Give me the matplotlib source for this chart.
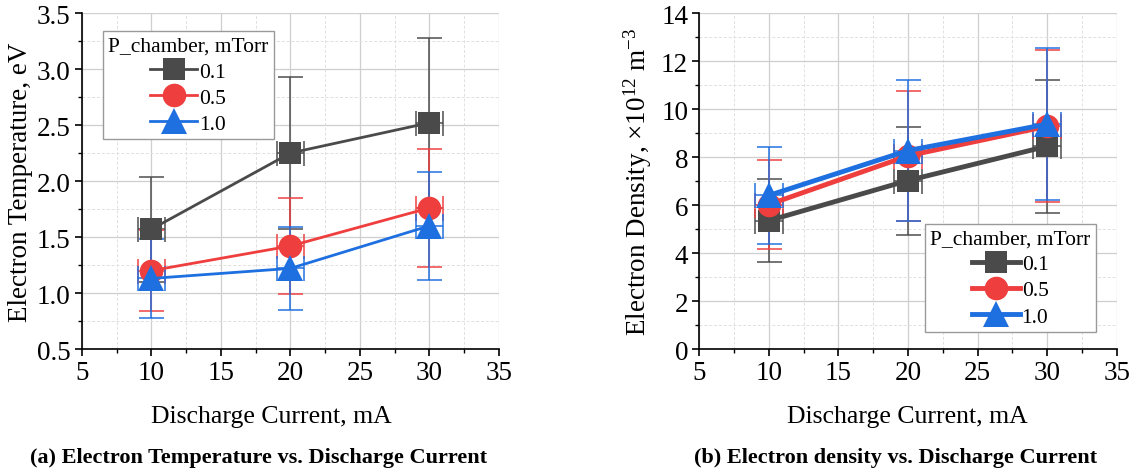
import matplotlib
matplotlib.use("Agg")
import matplotlib.pyplot as plt
from matplotlib.ticker import MultipleLocator, AutoMinorLocator

# -----------------------------
# Data
# -----------------------------
current_mA = [10, 20, 30]
pressures = ["0.1", "0.5", "1.0"]

te_01 = [1.57, 2.25, 2.52]
te_05 = [1.20, 1.42, 1.76]
te_10 = [1.13, 1.22, 1.60]
te_err_01 = [0.47, 0.68, 0.76]
te_err_05 = [0.36, 0.43, 0.53]
te_err_10 = [0.35, 0.37, 0.48]

ne_01 = [5.35, 7.02, 8.45]
ne_05 = [6.02, 8.05, 9.28]
ne_10 = [6.40, 8.27, 9.37]
ne_err_01 = [1.73, 2.25, 2.77]
ne_err_05 = [1.87, 2.70, 3.17]
ne_err_10 = [2.03, 2.93, 3.16]

current_err = [1.0, 1.0, 1.0]

# -----------------------------
# Style
# -----------------------------
COLORS = ["#4a4a4a", "#ef3e3e", "#1e6fdf"]
MARKERS = ["s", "o", "^"]
MSIZES = [16, 17, 19]

FONT = "Liberation Serif"
TICK_SIZE = 19.5
YLABEL_SIZE = 19.5
XLABEL_SIZE = 18.5
LEGEND_SIZE = 15.5
CAPTION_SIZE = 16

plt.rcParams["font.family"] = FONT
plt.rcParams["mathtext.fontset"] = "custom"
plt.rcParams["mathtext.rm"] = FONT
plt.rcParams["mathtext.it"] = FONT + ":italic"


def style_axes(ax, xlim, ylim, ymajor):
    ax.set_xlim(*xlim)
    ax.set_ylim(*ylim)
    ax.xaxis.set_major_locator(MultipleLocator(5))
    ax.xaxis.set_minor_locator(AutoMinorLocator(2))
    ax.yaxis.set_major_locator(MultipleLocator(ymajor))
    ax.yaxis.set_minor_locator(AutoMinorLocator(2))
    ax.spines["top"].set_visible(False)
    ax.spines["right"].set_visible(False)
    for side in ("left", "bottom"):
        ax.spines[side].set_linewidth(1.2)
        ax.spines[side].set_color("black")
    ax.tick_params(which="major", direction="out", length=5, width=1.2,
                   labelsize=TICK_SIZE, pad=3)
    ax.tick_params(which="minor", direction="out", length=3, width=1.0)
    ax.set_axisbelow(True)
    ax.grid(which="major", color="#cfcfcf", linewidth=0.9)
    ax.grid(which="minor", color="#e0e0e0", linewidth=0.7, linestyle=(0, (3, 2)))


def draw_series(ax, ys, yerrs, lw):
    for y, e, c, m, ms, lab in zip(ys, yerrs, COLORS, MARKERS, MSIZES, pressures):
        ax.errorbar(current_mA, y, yerr=e, xerr=current_err, color=c,
                    ecolor=c, elinewidth=1.2, capsize=9, capthick=1.2,
                    alpha=0.9, linestyle="none", marker="none", zorder=2)
        ax.plot(current_mA, y, color=c, linewidth=lw, marker=m,
                markersize=ms, markeredgewidth=0, label=lab, zorder=3)


def add_legend(ax, loc, anchor, lw):
    leg = ax.legend(title="P_chamber, mTorr", loc=loc, bbox_to_anchor=anchor,
                    fontsize=LEGEND_SIZE, title_fontsize=LEGEND_SIZE,
                    handlelength=2.2, handletextpad=0.1, labelspacing=0.28,
                    borderpad=0.25, fancybox=False, framealpha=1,
                    edgecolor="#9a9a9a", borderaxespad=0)
    leg.get_frame().set_linewidth(1.0)
    for h in leg.legend_handles:
        h.set_linewidth(lw)


fig = plt.figure(figsize=(11.35, 4.77), dpi=100)
ax1 = fig.add_axes([0.0722, 0.2662, 0.3674, 0.7044])
ax2 = fig.add_axes([0.6161, 0.2662, 0.3678, 0.7044])

# (a) electron temperature
style_axes(ax1, (5, 35), (0.5, 3.5), 0.5)
ax1.yaxis.set_major_formatter(matplotlib.ticker.FormatStrFormatter("%.1f"))
draw_series(ax1, [te_01, te_05, te_10], [te_err_01, te_err_05, te_err_10], 2.0)
ax1.set_ylabel("Electron Temperature, eV", fontsize=YLABEL_SIZE, labelpad=3)
add_legend(ax1, "upper left", (0.05, 0.946), 2.0)

# (b) electron density
style_axes(ax2, (5, 35), (0, 14), 2)
draw_series(ax2, [ne_01, ne_05, ne_10], [ne_err_01, ne_err_05, ne_err_10], 3.5)
ax2.set_ylabel("Electron Density, ×10$^{12}$ m$^{-3}$", fontsize=YLABEL_SIZE,
               labelpad=5)
add_legend(ax2, "lower right", (0.95, 0.051), 3.5)

fig.text(271 / 1135, 1 - 417 / 477, "Discharge Current, mA",
         fontsize=XLABEL_SIZE, ha="center", va="center")
fig.text(907 / 1135, 1 - 417 / 477, "Discharge Current, mA",
         fontsize=XLABEL_SIZE, ha="center", va="center")
fig.text(259 / 1135, 1 - 458 / 477,
         "(a) Electron Temperature vs. Discharge Current",
         fontsize=CAPTION_SIZE, fontweight="bold", ha="center", va="center")
fig.text(896 / 1135, 1 - 458 / 477,
         "(b) Electron density vs. Discharge Current",
         fontsize=CAPTION_SIZE, fontweight="bold", ha="center", va="center")

fig.savefig("out.png", dpi=100, facecolor="white")
